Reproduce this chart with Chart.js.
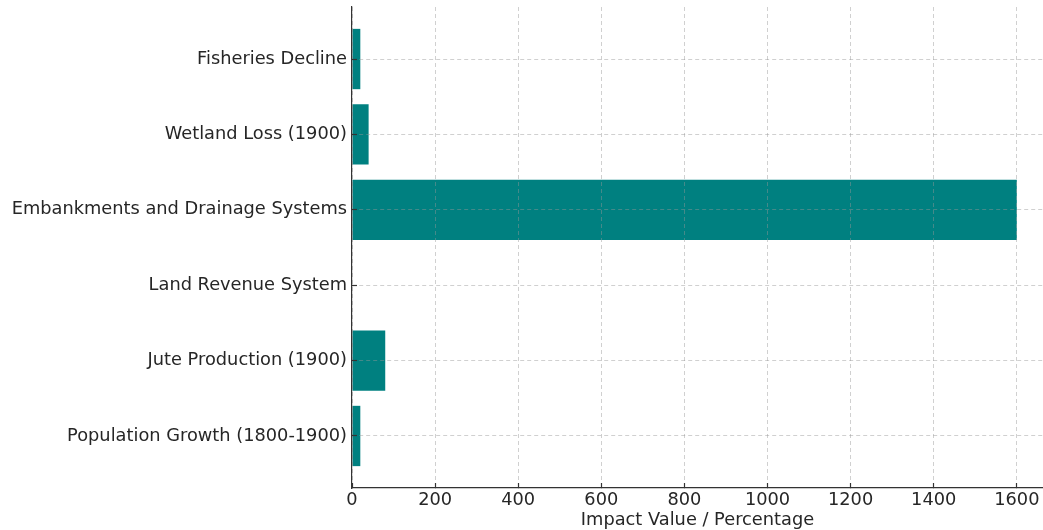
<!DOCTYPE html>
<html lang="en">
<head>
  <meta charset="UTF-8">
  <title>Impact Chart</title>
  <script src="https://cdn.jsdelivr.net/npm/chart.js"></script>
  <style>
    html, body { margin: 0; padding: 0; background: white; font-family: "DejaVu Sans"; }
    #wrap { width: 1043px; height: 530px; }
  </style>
</head>
<body>
  <div id="wrap"><canvas id="impactChart" width="1043" height="530"></canvas></div>

  <script>
    // bottom to top, like matplotlib barh
    const categories = [
      "Population Growth (1800-1900)",
      "Jute Production (1900)",
      "Land Revenue System",
      "Embankments and Drainage Systems",
      "Wetland Loss (1900)",
      "Fisheries Decline"
    ];
    const impactValues = [20, 80, 0, 1600, 40, 20];
    const xTicks = [0, 200, 400, 600, 800, 1000, 1200, 1400, 1600];

    const barColor = "#008080";
    const gridColor = "rgba(150,150,150,0.45)";
    const textColor = "#262626";
    const font = { family: "'DejaVu Sans'", size: 17.8, lineHeight: 1.2 };

    function noPad(s) {
      s.paddingLeft = 0; s.paddingRight = 0;
      s.paddingTop = 0; s.paddingBottom = 0;
    }

    function drawChart() {
      const points = categories.map((c, i) => ({ x: impactValues[i], y: i }));
      const ctx = document.getElementById("impactChart").getContext("2d");
      new Chart(ctx, {
        type: "bar",
        data: {
          datasets: [{
            data: points,
            backgroundColor: barColor,
            borderWidth: 0,
            barPercentage: 0.8,
            categoryPercentage: 1.0
          }]
        },
        options: {
          indexAxis: "y",
          responsive: false,
          animation: false,
          layout: { padding: { top: 7, right: 0, left: 0, bottom: 0 } },
          plugins: { legend: { display: false }, tooltip: { enabled: false } },
          scales: {
            x: {
              type: "linear",
              min: 0,
              max: 1663,
              offset: false,
              afterBuildTicks: s => { s.ticks = xTicks.map(v => ({ value: v })); },
              afterFit: s => { s.height = 42; noPad(s); },
              grid: {
                color: gridColor,
                offset: false,
                z: 1,
                tickLength: -5,
                tickColor: "#333",
                tickBorderDash: [],
                tickWidth: 1.2
              },
              border: { display: true, color: "#333", width: 1.2, dash: [4, 3], z: 2 },
              ticks: { color: textColor, font: font, padding: 7, maxRotation: 0, callback: v => String(v) },
              title: {
                display: true,
                text: "Impact Value / Percentage",
                color: textColor,
                font: font,
                padding: { top: 0, bottom: -1 }
              }
            },
            y: {
              type: "linear",
              min: -0.69,
              max: 5.69,
              offset: false,
              afterBuildTicks: s => { s.ticks = categories.map((c, i) => ({ value: i })); },
              afterFit: s => { s.width = 352; noPad(s); },
              grid: {
                color: gridColor,
                offset: false,
                z: 1,
                tickLength: -5,
                tickColor: "#333",
                tickBorderDash: [],
                tickWidth: 1.2
              },
              border: { display: true, color: "#333", width: 1.2, dash: [4, 3], z: 2 },
              ticks: {
                color: textColor,
                font: font,
                padding: 10,
                callback: v => categories[v]
              }
            }
          }
        }
      });
    }

    document.fonts.load("17.8px 'DejaVu Sans'").then(drawChart, drawChart);
  </script>
</body>
</html>
